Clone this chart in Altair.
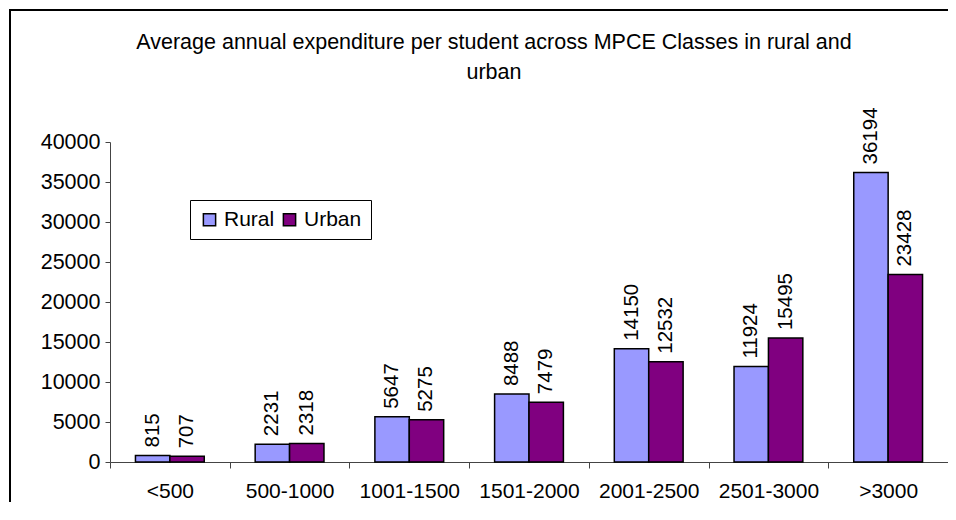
import altair as alt
import pandas as pd

classes = ["<500", "500-1000", "1001-1500", "1501-2000", "2001-2500", "2501-3000", ">3000"]
rural = [815, 2231, 5647, 8488, 14150, 11924, 36194]
urban = [707, 2318, 5275, 7479, 12532, 15495, 23428]
series = ["Rural", "Urban"]
colors = ["#9999FF", "#800080"]
y_ticks = [0, 5000, 10000, 15000, 20000, 25000, 30000, 35000, 40000]

rows = []
for c, r, u in zip(classes, rural, urban):
    rows.append({"cls": c, "series": "Rural", "value": r})
    rows.append({"cls": c, "series": "Urban", "value": u})
df = pd.DataFrame(rows)

FONT = "Liberation Sans"

x_enc = alt.X(
    "cls:N", sort=classes,
    scale=alt.Scale(paddingInner=0, paddingOuter=0),
    axis=alt.Axis(title=None, labelAngle=0, tickBand="extent", labelPadding=12,
                  tickSize=6, labelFontSize=21, labelColor="black",
                  domainColor="#444", tickColor="#444", labelFont=FONT),
)
xo_enc = alt.XOffset("series:N", sort=series,
                     scale=alt.Scale(paddingOuter=0.74, paddingInner=0))
y_enc = alt.Y(
    "value:Q", scale=alt.Scale(domain=[0, 40000], nice=False),
    axis=alt.Axis(title=None, values=y_ticks, format="d", grid=False, tickSize=5,
                  labelPadding=5, labelFontSize=21.5, labelColor="black",
                  domainColor="#444", tickColor="#444", labelFont=FONT),
)

base = alt.Chart(df).encode(x=x_enc, xOffset=xo_enc, y=y_enc)

bars = base.mark_bar(stroke="black", strokeWidth=1.5).encode(
    color=alt.Color(
        "series:N", sort=series,
        scale=alt.Scale(domain=series, range=colors),
        legend=alt.Legend(
            title=None, orient="none", legendX=80, legendY=58, direction="horizontal",
            strokeColor="black", fillColor="white", padding=9, symbolType="square",
            symbolSize=150, symbolStrokeColor="black", symbolStrokeWidth=1.5,
            labelFontSize=21, labelFont=FONT, labelColor="black", columnPadding=4,
            labelOffset=4,
        ),
    )
)

labels = base.mark_text(angle=270, align="left", baseline="middle", dx=8,
                        fontSize=20.5, font=FONT, color="black").encode(
    text=alt.Text("value:Q", format="d")
)

frame = alt.Chart(alt.Data(values=[{"k": 1}]))
top_line = frame.mark_rule(color="black", strokeWidth=2).encode(
    x=alt.value(-101), x2=alt.value(2000), y=alt.value(-132))
left_line = frame.mark_rule(color="black", strokeWidth=2).encode(
    x=alt.value(-100), y=alt.value(-133), y2=alt.value(2000))

chart = alt.layer(bars, labels, top_line, left_line).properties(
    width=838, height=320,
    title=alt.Title(
        ["Average annual expenditure per student across MPCE Classes in rural and", "urban"],
        fontSize=21.5, font=FONT, fontWeight="normal", color="black",
        anchor="middle", dx=-35, offset=-75, lineHeight=30,
    ),
    autosize=alt.AutoSizeParams(type="none"),
    padding={"left": 102, "top": 134, "right": 0, "bottom": 40},
).configure_view(stroke=None)

chart.save("out.html", embed_options={"renderer": "svg", "actions": False})
